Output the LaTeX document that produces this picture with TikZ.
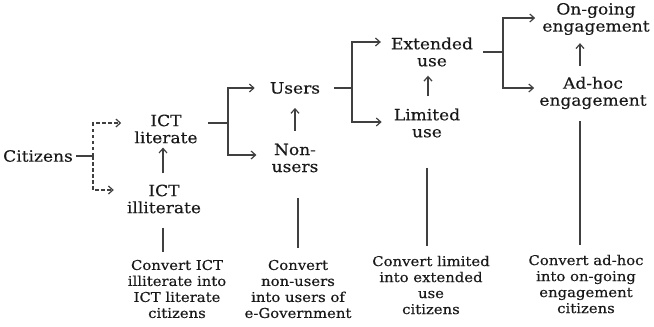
\documentclass[tikz,border=0pt]{standalone}
\usepackage{fontspec}
\setmainfont{DejaVu Serif}[FakeStretch=1.1,FakeBold=0.3]
\usetikzlibrary{arrows.meta}
\begin{document}
\begin{tikzpicture}[x=1pt,y=-1pt,
  lab/.style={inner sep=0pt,align=center,font=\fontsize{15.5}{17}\selectfont,text=black!90},
  note/.style={inner sep=0pt,align=center,font=\fontsize{13.5}{16}\selectfont,text=black!90},
  plain/.style={draw=black!75,line width=1.3pt},
  arr/.style={plain,-{Straight Barb[length=4.5pt,width=8pt,line width=1.2pt]}},
  darr/.style={arr,dash pattern=on 3.5pt off 2.5pt,line width=1.1pt}]
\useasboundingbox (0,0) rectangle (654,327);
% nodes
\node[lab] (cit) at (38,156) {Citizens};
\node[lab] (lit) at (166,129) {ICT\\literate};
\node[lab] (illit) at (164,199) {ICT\\illiterate};
\node[lab] (users) at (295,88) {Users};
\node[lab] (non) at (295,158) {Non-\\users};
\node[lab] (ext) at (432,52) {Extended\\use};
\node[lab] (lim) at (427,123) {Limited\\use};
\node[lab] (ong) at (596,19) {On-going\\engagement};
\node[lab] (adh) at (593,93) {Ad-hoc\\engagement};
\node[note] (t1) at (177,289) {Convert ICT\\illiterate into\\ICT literate\\citizens};
\node[note] (t2) at (298,289) {Convert\\non-users\\into users of\\e-Government};
\node[note] (t3) at (431,285) {Convert limited\\into extended\\use\\citizens};
\node[note] (t4) at (586,284) {Convert ad-hoc\\into on-going\\engagement\\citizens};
% fork points
\coordinate (d0) at (93,156);
\coordinate (f1) at (228,123);
\coordinate (f2) at (352,88);
\coordinate (f3) at (503,52);
% columns of the upward arrows
\coordinate (u1) at (163,0);
\coordinate (u2) at (295,0);
\coordinate (u3) at (428,0);
\coordinate (u4) at (580,0);
% citizens fork (dashed)
\draw[plain,line width=1.1pt] ([xshift=3pt]cit.east) -- (d0);
\draw[darr,shorten >=13pt] (d0) |- ([yshift=6pt]lit.west);
\draw[darr,shorten >=13pt] (d0) |- ([yshift=9pt]illit.west);
% ICT literate fork
\draw[plain] ([xshift=10pt,yshift=6pt]lit.east) -- (f1);
\draw[arr,shorten >=15pt] (f1) |- (users.west);
\draw[arr,shorten >=15pt] (f1) |- ([yshift=3pt]non.west);
\draw[arr,shorten <=11pt,shorten >=4pt] (illit.north -| u1) -- (lit.south -| u1);
% users fork
\draw[plain] ([xshift=14pt]users.east) -- (f2);
\draw[arr,shorten >=10pt] (f2) |- ([yshift=10pt]ext.west);
\draw[arr,shorten >=12pt] (f2) |- ([yshift=1pt]lim.west);
\draw[arr,shorten <=13pt,shorten >=14pt] (non.north -| u2) -- (users.south -| u2);
% extended fork
\draw[plain] ([xshift=10pt]ext.east) -- (f3);
\draw[arr,shorten >=7pt] (f3) |- ([yshift=1pt]ong.west);
\draw[arr,shorten >=5pt] (f3) |- ([yshift=5pt]adh.west);
\draw[arr,shorten <=12pt,shorten >=9pt] (lim.north -| u3) -- (ext.south -| u3);
\draw[arr,shorten <=11pt,shorten >=8pt] (adh.north -| u4) -- (ong.south -| u4);
% vertical links to notes
\coordinate (v1) at ([xshift=-1pt]illit.south);
\coordinate (v2) at ([xshift=3pt]non.south);
\coordinate (v3) at (lim.south);
\coordinate (v4) at ([xshift=-13pt]adh.south);
\draw[plain,shorten <=14pt,shorten >=8pt] (v1) -- (v1 |- t1.north);
\draw[plain,shorten <=26pt,shorten >=12pt] (v2) -- (v2 |- t2.north);
\draw[plain,shorten <=30pt,shorten >=10pt] (v3) -- (v3 |- t3.north);
\draw[plain,shorten <=12pt,shorten >=10pt] (v4) -- (v4 |- t4.north);
\end{tikzpicture}
\end{document}
